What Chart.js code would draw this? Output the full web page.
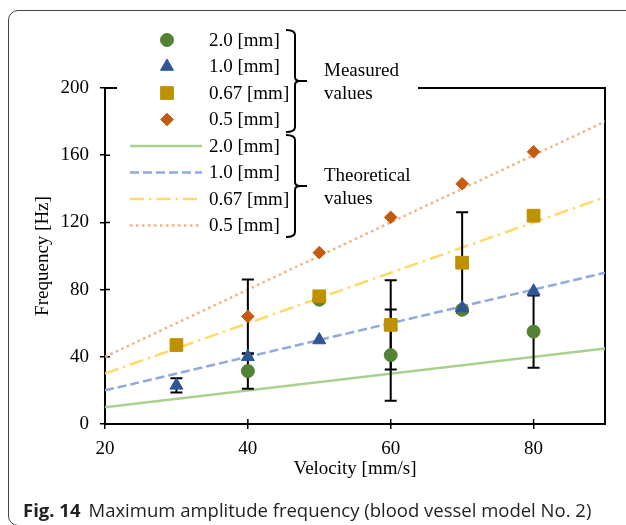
<!DOCTYPE html>
<html>
<head>
<meta charset="utf-8">
<script src="https://cdn.jsdelivr.net/npm/chart.js@4.4.1/dist/chart.umd.min.js"></script>
<style>
  html, body { margin: 0; padding: 0; background: #fff; overflow: hidden; }
  #wrap { position: relative; width: 626px; height: 525px; overflow: hidden; }
  #frame { position: absolute; left: 8px; top: 10px; width: 640px; height: 516px;
           border: 1.3px solid #444; border-radius: 10px; box-sizing: border-box; }
  #chart { position: absolute; left: 0; top: 0; }
  #caption { position: absolute; left: 23px; top: 497px; white-space: nowrap; line-height: 26px;
             font-family: "Open Sans", "Noto Sans", sans-serif; font-size: 18.5px; color: #231f20; }
  #caption b { font-weight: 700; margin-right: 8px; }
</style>
</head>
<body>
<div id="wrap">
  <div id="frame"></div>
  <canvas id="chart" width="626" height="525"></canvas>
  <div id="caption"><b>Fig. 14</b>Maximum amplitude frequency (blood vessel model No. 2)</div>
</div>
<script>
// ---- data ----
const velocities = [30, 40, 50, 60, 70, 80];
const seriesLabels = ['2.0 [mm]', '1.0 [mm]', '0.67 [mm]', '0.5 [mm]'];
const measured20  = [null, 31.5, 74, 41, 68, 55];
const measured10  = [23, 40, 50, 59, 69, 79];
const measured067 = [47, null, 76, 59, 96, 124];
const measured05  = [null, 64, 102, 123, 143, 162];
const error20  = [null, 10.5, null, 27.2, null, 21.5];
const error10  = [4.2, null, null, null, null, null];
const error067 = [null, null, null, 26.6, 30, null];
const error05  = [null, 22, null, null, null, null];
const theoryVelocity = [20, 90];
const theory20  = [10, 45];
const theory10  = [20, 90];
const theory067 = [30, 135];
const theory05  = [40, 180];
const xTicks = [20, 40, 60, 80];
const yTicks = [0, 40, 80, 120, 160, 200];

const markerColors = ['#548235', '#2F5597', '#BF9000', '#C55A11'];
const lineColors = ['#A9D18E', '#8FAADC', '#FFD966', '#F4B183'];
const markerStyles = ['circle', 'triangle', 'rect', 'rectRot'];
const markerRadius = [6.5, 7.5, 9, 6.3];
const lineDashes = [[], [9, 4], [14, 5, 2.5, 5], [2.5, 3.5]];

const measured = [measured20, measured10, measured067, measured05];
const errors = [error20, error10, error067, error05];
const theory = [theory20, theory10, theory067, theory05];

const toPts = (xs, ys) => xs.map((x, i) => ({x: x, y: ys[i]})).filter(p => p.y !== null);

const datasets = [];
measured.forEach((arr, i) => {
  datasets.push({
    label: seriesLabels[i],
    data: toPts(velocities, arr),
    showLine: false,
    pointStyle: markerStyles[i],
    pointRadius: markerRadius[i],
    pointHoverRadius: markerRadius[i],
    backgroundColor: markerColors[i],
    borderColor: markerColors[i],
    pointBorderWidth: 1,
    order: 4 - i
  });
});
theory.forEach((arr, i) => {
  datasets.push({
    label: seriesLabels[i],
    data: toPts(theoryVelocity, arr),
    showLine: true,
    pointRadius: 0,
    borderColor: lineColors[i],
    backgroundColor: lineColors[i],
    borderWidth: 2.5,
    borderDash: lineDashes[i],
    borderCapStyle: 'butt',
    order: 20 - i
  });
});

const serif = '"Liberation Serif", "Times New Roman", serif';

const errorBars = {
  id: 'errorBars',
  beforeDatasetDraw(chart, args) {
    if (args.index !== 0) return;
    const {ctx, scales: {x, y}} = chart;
    ctx.save();
    ctx.strokeStyle = '#000';
    ctx.lineWidth = 2;
    measured.forEach((arr, s) => {
      arr.forEach((v, i) => {
        const e = errors[s][i];
        if (v === null || e === null) return;
        const px = x.getPixelForValue(velocities[i]);
        const top = y.getPixelForValue(v + e);
        const bot = y.getPixelForValue(v - e);
        ctx.beginPath();
        ctx.moveTo(px, top); ctx.lineTo(px, bot);
        ctx.moveTo(px - 6, top); ctx.lineTo(px + 6, top);
        ctx.moveTo(px - 6, bot); ctx.lineTo(px + 6, bot);
        ctx.stroke();
      });
    });
    ctx.restore();
  }
};

function brace(ctx, x, top, bot) {
  const mid = (top + bot) / 2;
  ctx.beginPath();
  ctx.moveTo(x - 9, top);
  ctx.quadraticCurveTo(x, top, x, top + 5);
  ctx.lineTo(x, mid - 4);
  ctx.quadraticCurveTo(x, mid, x + 5, mid);
  ctx.lineTo(x + 12, mid);
  ctx.moveTo(x + 5, mid);
  ctx.quadraticCurveTo(x, mid, x, mid + 4);
  ctx.lineTo(x, bot - 5);
  ctx.quadraticCurveTo(x, bot, x - 9, bot);
  ctx.stroke();
}

const frameAndLegend = {
  id: 'frameAndLegend',
  beforeDatasetsDraw(chart) {
    const {ctx, chartArea: a, scales: {x, y}} = chart;
    ctx.save();
    // plot frame (top and right) + inward ticks
    ctx.strokeStyle = '#000';
    ctx.lineWidth = 2;
    ctx.beginPath();
    ctx.moveTo(a.left - 1, a.top); ctx.lineTo(a.right, a.top); ctx.lineTo(a.right, a.bottom + 1);
    ctx.stroke();
    ctx.lineWidth = 1.5;
    ctx.beginPath();
    yTicks.forEach(t => { const p = y.getPixelForValue(t); ctx.moveTo(a.left, p); ctx.lineTo(a.left + 5, p); });
    xTicks.forEach(t => { const p = x.getPixelForValue(t); ctx.moveTo(p, a.bottom); ctx.lineTo(p, a.bottom - 5); });
    ctx.stroke();
    // legend background
    ctx.fillStyle = '#fff';
    ctx.fillRect(117, 18, 301, 125);
    // legend items
    ctx.font = '19px ' + serif;
    ctx.textBaseline = 'middle';
    ctx.textAlign = 'left';
    const rowY = i => 40 + i * 26.5;
    for (let i = 0; i < 4; i++) {
      const yy = rowY(i);
      ctx.fillStyle = markerColors[i];
      ctx.strokeStyle = markerColors[i];
      ctx.lineWidth = 1;
      Chart.helpers.drawPoint(ctx, {pointStyle: markerStyles[i], radius: markerRadius[i], rotation: 0, borderWidth: 1}, 167, yy);
      ctx.fillStyle = '#000';
      ctx.fillText(seriesLabels[i], 209, yy + 1);
    }
    for (let i = 0; i < 4; i++) {
      const yy = rowY(i + 4);
      ctx.strokeStyle = lineColors[i];
      ctx.lineWidth = 2.5;
      ctx.setLineDash(lineDashes[i]);
      ctx.beginPath(); ctx.moveTo(130, yy); ctx.lineTo(202, yy); ctx.stroke();
      ctx.setLineDash([]);
      ctx.fillStyle = '#000';
      ctx.fillText(seriesLabels[i], 209, yy + 1);
    }
    ctx.strokeStyle = '#000';
    ctx.lineWidth = 2;
    brace(ctx, 295, 30, 132);
    brace(ctx, 295, 135, 237);
    ctx.fillStyle = '#000';
    ctx.fillText('Measured', 324, 71);
    ctx.fillText('values', 324, 94);
    ctx.fillText('Theoretical', 324, 176);
    ctx.fillText('values', 324, 199);
    ctx.restore();
  }
};

new Chart(document.getElementById('chart'), {
  type: 'scatter',
  data: { datasets: datasets },
  plugins: [errorBars, frameAndLegend],
  options: {
    responsive: false,
    animation: false,
    devicePixelRatio: 1,
    layout: { padding: { left: 0, right: 21, top: 88, bottom: 45 } },
    plugins: { legend: { display: false }, tooltip: { enabled: false } },
    scales: {
      x: {
        type: 'linear', min: 20, max: 90,
        afterFit(s) { s.height = 56; s.paddingLeft = 0; s.paddingRight = 0; },
        afterBuildTicks(s) { s.ticks = xTicks.map(v => ({value: v})); },
        ticks: { color: '#000', font: { family: serif, size: 19 }, padding: 9, maxRotation: 0 },
        grid: { drawOnChartArea: false, color: '#000', lineWidth: 1.5, tickLength: 5 },
        border: { color: '#000', width: 2 },
        title: { display: true, text: 'Velocity [mm/s]', color: '#000',
                 font: { family: serif, size: 19, lineHeight: 1.2 }, padding: { top: 0, bottom: 0 } }
      },
      y: {
        type: 'linear', min: 0, max: 200,
        afterFit(s) { s.width = 105; s.paddingTop = 0; s.paddingBottom = 0; },
        afterBuildTicks(s) { s.ticks = yTicks.map(v => ({value: v})); },
        ticks: { color: '#000', font: { family: serif, size: 19 }, padding: 11 },
        grid: { drawOnChartArea: false, color: '#000', lineWidth: 1.5, tickLength: 5 },
        border: { color: '#000', width: 2 },
        title: { display: true, text: 'Frequency [Hz]', color: '#000',
                 font: { family: serif, size: 19, lineHeight: 1.2 }, padding: { top: 32, bottom: 0 } }
      }
    }
  }
});
</script>
</body>
</html>
